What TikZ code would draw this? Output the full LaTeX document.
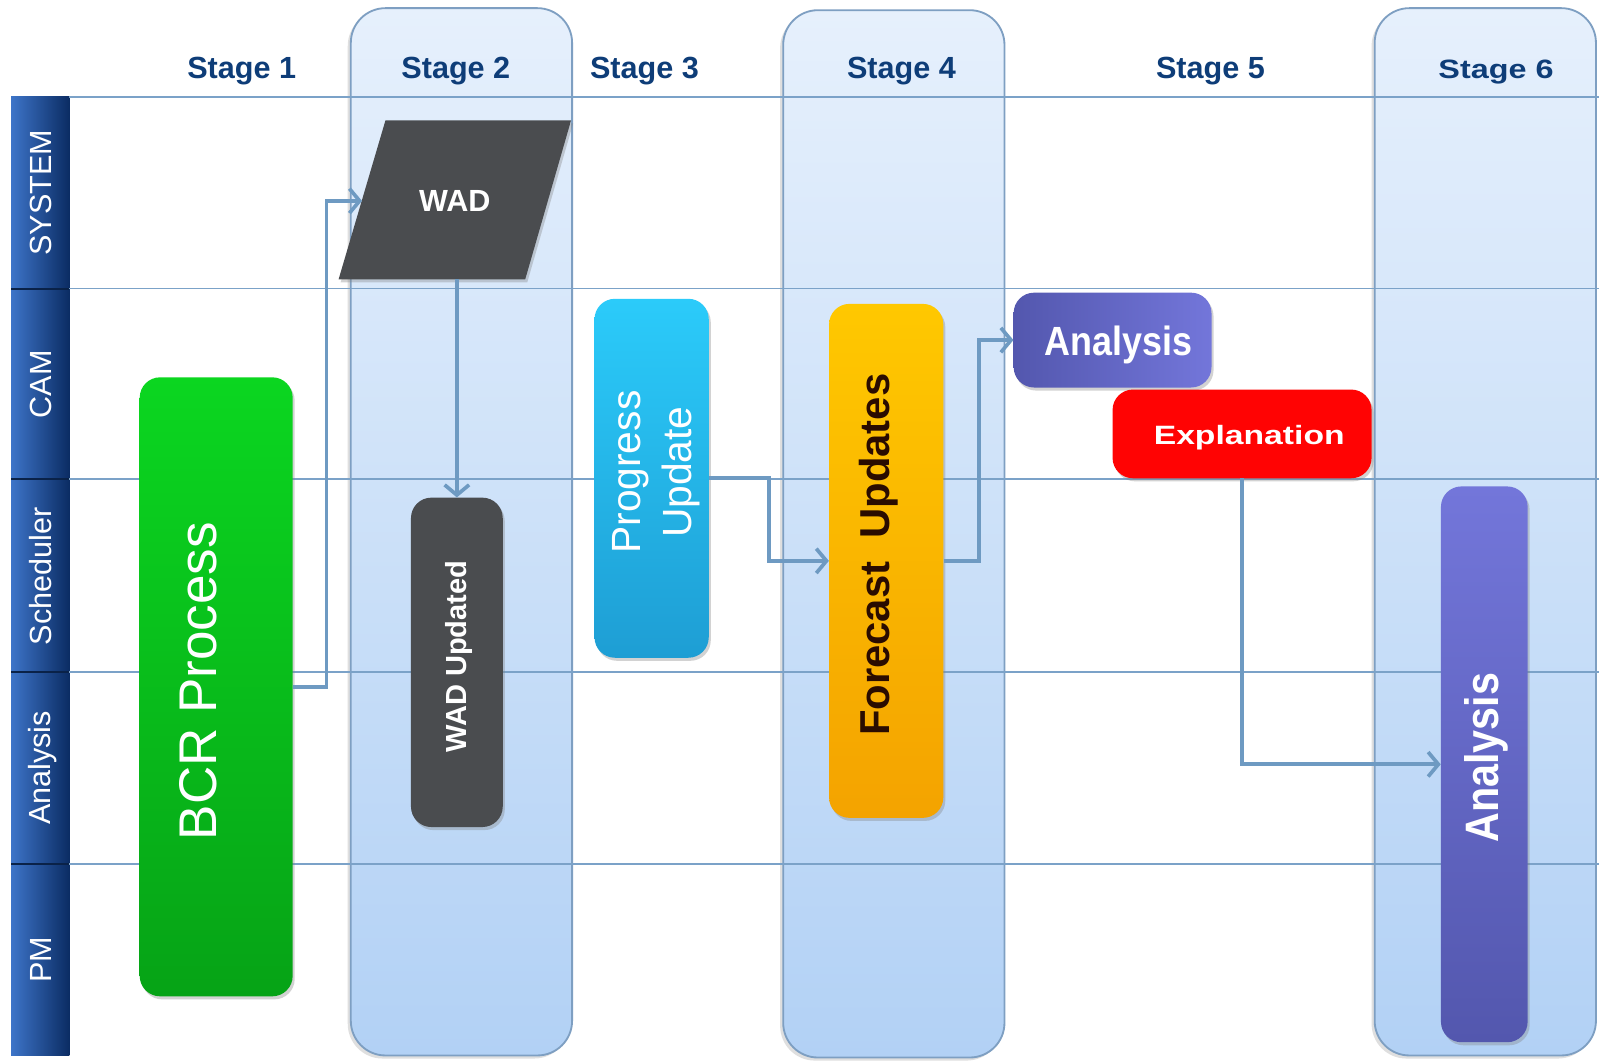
\documentclass[tikz,border=0pt]{standalone}
\usepackage{fontspec}
\setmainfont{Liberation Sans}
\usepackage{graphicx}
\usetikzlibrary{arrows.meta,shadows,calc}
\definecolor{lanel}{HTML}{3D74C8}
\definecolor{lanem}{HTML}{1B4C98}
\definecolor{laner}{HTML}{0B2C63}
\definecolor{lanesep}{HTML}{0A2248}
\definecolor{gridline}{HTML}{7BA2C8}
\definecolor{connc}{HTML}{6E9AC2}
\definecolor{stagetxt}{HTML}{0E3D78}
\definecolor{coltop}{HTML}{E6F0FC}
\definecolor{colbot}{HTML}{B2D1F5}
\definecolor{colbord}{HTML}{7E9FC2}
\definecolor{greentop}{HTML}{0BD620}
\definecolor{greenbot}{HTML}{06A316}
\definecolor{graybox}{HTML}{4A4C4F}
\definecolor{cyantop}{HTML}{2BCBFA}
\definecolor{cyanbot}{HTML}{1E9ED4}
\definecolor{orangetop}{HTML}{FFC800}
\definecolor{orangebot}{HTML}{F4A300}
\definecolor{purpl}{HTML}{5357AE}
\definecolor{purpr}{HTML}{7376DA}
\definecolor{redbox}{HTML}{FF0303}
\definecolor{fctext}{HTML}{2A0C00}
\tikzset{
  stagecol/.style={draw=colbord, line width=1.8pt, rounded corners=34pt,
    top color=coltop, bottom color=colbot,
    drop shadow={shadow xshift=-3pt, shadow yshift=-3pt, opacity=0.25}},
  grid/.style={draw=gridline, line width=1.6pt},
  lanelbl/.style={rotate=90, text=white, font=\fontsize{30}{36}\selectfont, inner sep=0pt},
  stagelbl/.style={text=stagetxt, font=\bfseries\fontsize{30}{36}\selectfont, inner sep=0pt, anchor=base},
  box/.style={rounded corners=20pt, inner sep=0pt,
    drop shadow={shadow xshift=2pt, shadow yshift=-3pt, opacity=0.35}},
  conn/.style={draw=connc, line width=3.6pt, -{Straight Barb[length=10pt,width=24pt]}},
}
\begin{document}
\begin{tikzpicture}[x=1pt,y=-1pt]
\useasboundingbox (0,0) rectangle (1568,1040);
\fill[white] (0,0) rectangle (1568,1040);

% stage columns
\path[stagecol] (344,8) rectangle (561,1035);
\path[stagecol] (768,10) rectangle (985,1037);
\path[stagecol] (1348,8) rectangle (1565,1035);

% lane bar
\foreach \ya/\yb in {95/283,283/470,470/659,659/847,847/1035}{
  \fill[left color=lanel, middle color=lanem, right color=laner] (11,\ya) rectangle (68,\yb);
}
\foreach \yy in {283,470,659,847}{
  \draw[lanesep, line width=2pt] (11,\yy) -- (68,\yy);
}

% grid lines
\foreach \yy in {95,283,470,659,847}{
  \draw[grid] (68,\yy) -- (1568,\yy);
}

% lane labels
\node[lanelbl] (lsys) at (40,189) {SYSTEM};
\node[lanelbl] (lcam) at (40,377) {CAM};
\node[lanelbl] (lsch) at (40,565) {Scheduler};
\node[lanelbl] (lana) at (42,753) {Analysis};
\node[lanelbl] (lpm) at (40,941) {PM};

% stage labels
\node[stagelbl] (s1) at (237,77) {Stage 1};
\node[stagelbl] (s2) at (447,77) {Stage 2};
\node[stagelbl] (s3) at (632,77) {Stage 3};
\node[stagelbl] (s4) at (884,77) {Stage 4};
\node[stagelbl] (s5) at (1187,77) {Stage 5};
\node[stagelbl, font=\bfseries\fontsize{26}{30}\selectfont] (s6) at (1467,77) {\scalebox{1.22}[1]{Stage 6}};

% WAD parallelogram
\fill[graybox, drop shadow={shadow xshift=2pt, shadow yshift=-3pt, opacity=0.35}]
  (378,118) -- (560,118) -- (515,274) -- (332,274) -- cycle;
\coordinate (wadL) at (355,197);
\coordinate (wadB) at (448,274);
\node[text=white, font=\bfseries\fontsize{30}{36}\selectfont, inner sep=0pt] (wad) at (446,197) {WAD};

% boxes
\node[box, top color=greentop, bottom color=greenbot, minimum width=150pt, minimum height=607pt] (bcr) at (212,673.5) {};
\node[box, fill=graybox, minimum width=90pt, minimum height=323pt] (wadup) at (448,649.5) {};
\node[box, top color=cyantop, bottom color=cyanbot, minimum width=112pt, minimum height=352pt] (prog) at (639,469) {};
\node[box, top color=orangetop, bottom color=orangebot, minimum width=112pt, minimum height=504pt] (fc) at (869,550) {};
\node[box, left color=purpl, right color=purpr, minimum width=194pt, minimum height=93pt] (ana5) at (1091,333.5) {};
\node[box, fill=redbox, minimum width=254pt, minimum height=87pt] (expl) at (1218,425.5) {};
\node[box, top color=purpr, bottom color=purpl, minimum width=85pt, minimum height=545pt] (ana6) at (1455.5,749.5) {};

% box texts
\node[rotate=90, text=white, font=\fontsize{52}{60}\selectfont, inner sep=0pt] (tbcr) at (194,668) {BCR Process};
\node[rotate=90, text=white, font=\bfseries\fontsize{28.5}{34}\selectfont, inner sep=0pt] (twadup) at (450,644) {WAD Updated};
\node[rotate=90, text=white, font=\fontsize{40}{50}\selectfont, inner sep=0pt, align=center] (tprog) at (643,463) {Progress\\Update};
\node[rotate=90, text=fctext, font=\bfseries\fontsize{41}{48}\selectfont, inner sep=0pt] (tfc) at (862,544) {Forecast\hspace{0.55em}Updates};
\node[text=white, font=\bfseries\fontsize{40}{48}\selectfont, inner sep=0pt] (tana5) at (1097,338) {\scalebox{0.88}[1]{Analysis}};
\node[text=white, font=\bfseries\fontsize{26}{32}\selectfont, inner sep=0pt] (texpl) at (1225,429) {\scalebox{1.27}[1]{Explanation}};
\node[rotate=90, text=white, font=\bfseries\fontsize{46}{54}\selectfont, inner sep=0pt] (tana6) at (1458,743) {\scalebox{0.88}[1]{Analysis}};

% connectors
\draw[conn] (bcr.east) -- ++(33,0) |- (wadL);
\draw[conn] (wadB) -- (wadup.north);
\draw[conn] (prog.east) -- ++(59,0) |- (fc.west);
\draw[conn] (fc.east) -- ++(35,0) |- (ana5.west);
\draw[conn] (expl.south) |- (ana6.west);
\end{tikzpicture}
\end{document}
